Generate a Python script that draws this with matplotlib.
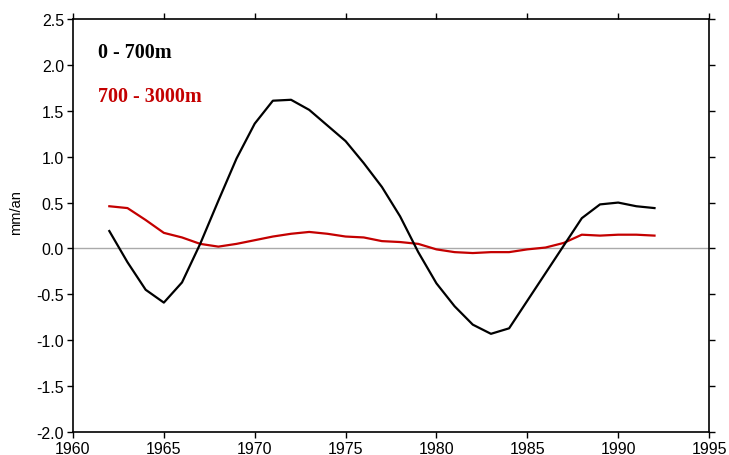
import matplotlib
matplotlib.use("Agg")
import matplotlib.pyplot as plt

years = list(range(1962, 1993))
upper = [0.19, -0.15, -0.45, -0.59, -0.37, 0.05, 0.52, 0.98, 1.36, 1.61, 1.62,
         1.51, 1.34, 1.17, 0.93, 0.67, 0.35, -0.04, -0.38, -0.63, -0.83, -0.93,
         -0.87, -0.57, -0.27, 0.03, 0.33, 0.48, 0.50, 0.46, 0.44]
deep = [0.46, 0.44, 0.31, 0.17, 0.12, 0.05, 0.02, 0.05, 0.09, 0.13, 0.16,
        0.18, 0.16, 0.13, 0.12, 0.08, 0.07, 0.05, -0.01, -0.04, -0.05, -0.04,
        -0.04, -0.01, 0.01, 0.06, 0.15, 0.14, 0.15, 0.15, 0.14]
xticks = [1960, 1965, 1970, 1975, 1980, 1985, 1990, 1995]
yticks = [-2.0, -1.5, -1.0, -0.5, 0.0, 0.5, 1.0, 1.5, 2.0, 2.5]
labels = ["0 - 700m", "700 - 3000m"]
colors = ["black", "#c40000"]

plt.rcParams['font.family'] = ['Liberation Sans', 'DejaVu Sans']
fig = plt.figure(figsize=(7.29, 4.56), dpi=100)
ax = fig.add_axes([0.1001, 0.0504, 0.8725, 0.9057])
ax.axhline(0, color="#aaaaaa", lw=1.0, zorder=1)
ax.plot(years, upper, color=colors[0], lw=1.6, zorder=3)
ax.plot(years, deep, color=colors[1], lw=1.6, zorder=2)
ax.set_xlim(1960, 1995)
ax.set_ylim(-2.0, 2.5)
ax.set_xticks(xticks)
ax.set_yticks(yticks)
ax.set_yticklabels([f"{v:.1f}" for v in yticks])
ax.tick_params(direction="out", length=4.5, width=1.0, labelsize=11.5,
               top=True, right=True, labeltop=False, labelright=False, pad=2)
for s in ax.spines.values():
    s.set_linewidth(1.2)
ax.set_ylabel("mm/an", fontsize=10.5)
ax.yaxis.set_label_coords(-0.078, 0.533)
ax.text(0.039, 0.920, labels[0], transform=ax.transAxes, color=colors[0],
        fontsize=14.5, fontweight="bold", family="Liberation Serif", va="center")
ax.text(0.039, 0.814, labels[1], transform=ax.transAxes, color=colors[1],
        fontsize=14.5, fontweight="bold", family="Liberation Serif", va="center")
fig.savefig("out.png", dpi=100)
